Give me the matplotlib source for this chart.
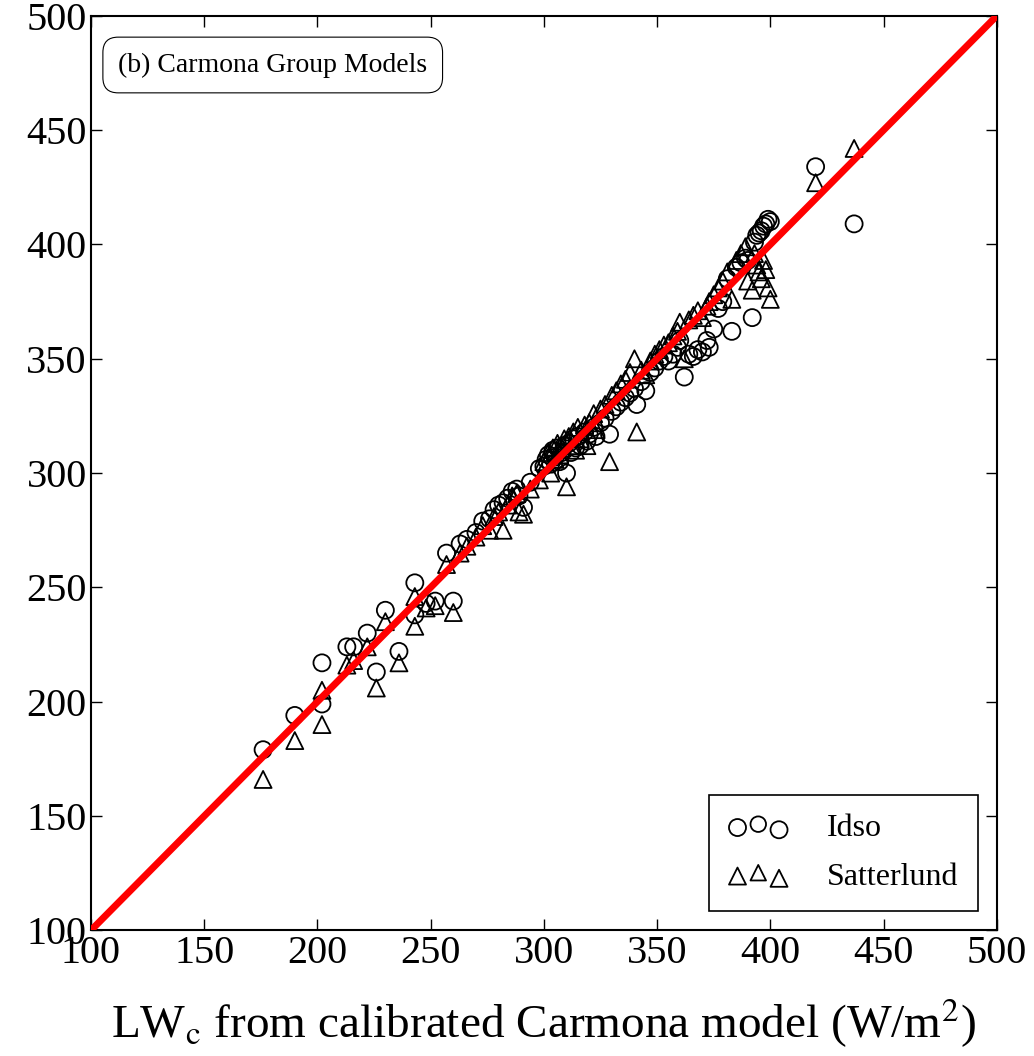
import matplotlib
matplotlib.use("Agg")
from matplotlib import pyplot as plt
from matplotlib.legend_handler import HandlerPathCollection
import numpy as np

# calibrated Carmona LW (x) vs. Idso / Satterlund estimates (y), W/m^2
lw_carmona = [
    176, 190, 202, 202, 213, 216, 222, 226, 230, 236, 243, 243, 248, 252,
    257, 260, 263, 266, 270, 273, 276, 278, 280, 282, 284, 286, 288, 289,
    291, 294, 298, 300, 301, 302, 303, 304, 305, 306, 307, 308, 309, 310,
    311, 312, 313, 314, 315, 316, 318, 319, 320, 322, 323, 325, 327, 329,
    330, 332, 334, 336, 338, 340, 341, 343, 345, 347, 349, 351, 353, 355,
    357, 359, 360, 362, 364, 366, 368, 370, 372, 373, 375, 377, 379, 381,
    383, 385, 387, 389, 390, 392, 393, 394, 395, 396, 397, 398, 399, 400,
    420, 437,
]
lw_idso = [
    179, 194, 199, 217, 224, 224, 230, 213, 240, 222, 252, 238, 243, 244,
    265, 244, 269, 271, 274, 279, 280, 284, 286, 287, 289, 292, 293, 290,
    285, 296, 302, 303, 306, 308, 304, 310, 307, 311, 305, 309, 312, 300,
    313, 309, 315, 311, 316, 312, 318, 314, 317, 320, 316, 322, 324, 317,
    327, 329, 331, 333, 335, 337, 330, 340, 336, 344, 346, 349, 351, 349,
    352, 355, 358, 342, 352, 351, 354, 353, 358, 355, 363, 372, 375, 385,
    362, 390, 392, 394, 393, 368, 401, 404, 405, 406, 408, 409, 411, 410,
    434, 409,
]
lw_satterlund = [
    166, 183, 190, 205, 216, 218, 224, 206, 235, 217, 246, 233, 241, 242,
    260, 239, 265, 268, 272, 277, 275, 281, 283, 275, 286, 290, 291, 283,
    282, 293, 297, 305, 304, 309, 300, 311, 306, 313, 308, 311, 315, 294,
    316, 312, 318, 310, 320, 315, 321, 312, 322, 326, 319, 328, 330, 305,
    334, 336, 339, 341, 344, 350, 318, 345, 343, 349, 352, 354, 356, 357,
    360, 362, 366, 350, 367, 369, 371, 368, 373, 375, 378, 381, 384, 388,
    376, 393, 396, 399, 384, 380, 396, 391, 388, 385, 393, 389, 381, 376,
    427, 442,
]

plt.rcParams["font.family"] = ["Liberation Serif", "DejaVu Serif"]
plt.rcParams["mathtext.fontset"] = "stix"

fig = plt.figure(figsize=(10.34, 10.56), dpi=100)
ax = fig.add_axes([0.088, 0.119, 0.876, 0.866])

ax.scatter(lw_carmona, lw_idso, s=150, marker="o", facecolors="none",
           edgecolors="black", linewidths=1.3, label="Idso", zorder=3)
ax.scatter(lw_carmona, lw_satterlund, s=150, marker="^", facecolors="none",
           edgecolors="black", linewidths=1.3, label="Satterlund", zorder=3)
ax.plot([100, 500], [100, 500], color="red", linewidth=5, zorder=4)

ax.set_xlim(100, 500)
ax.set_ylim(100, 500)
ticks = np.arange(100, 501, 50)
ax.set_xticks(ticks)
ax.set_yticks(ticks)
ax.tick_params(direction="in", length=8, width=1, top=True, right=True,
               labelsize=29, pad=3)
for spine in ax.spines.values():
    spine.set_linewidth(1.5)

ax.set_xlabel(r"LW$_\mathrm{c}$ from calibrated Carmona model (W/m$^2$)",
              fontsize=34, labelpad=18)

ax.text(0.03, 0.96, "(b) Carmona Group Models", transform=ax.transAxes,
        fontsize=20, va="top", ha="left",
        bbox=dict(boxstyle="round,pad=0.55", facecolor="white",
                  edgecolor="black", linewidth=0.8))

leg = ax.legend(loc="lower right", scatterpoints=3,
                scatteryoffsets=[0.4, 0.55, 0.3],
                handler_map={
                    type(ax.collections[0]): HandlerPathCollection(
                        sizes=[150, 125, 150])},
                fontsize=23, fancybox=False, framealpha=1, edgecolor="black",
                borderpad=0.6, handlelength=1.9, handletextpad=1.2,
                labelspacing=0.6, borderaxespad=0.6)
leg.get_frame().set_linewidth(1.2)

fig.savefig("out.png")
